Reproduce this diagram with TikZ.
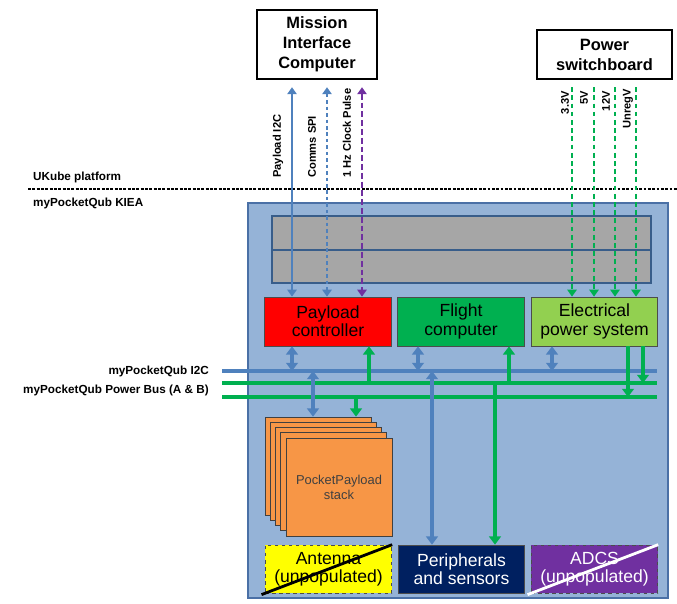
\documentclass[tikz,border=0pt]{standalone}
\usepackage{fontspec}
\setmainfont{Liberation Sans}
\usepackage{tikz}
\usetikzlibrary{arrows.meta,calc}
\usepackage{xcolor}
\definecolor{kieablue}{HTML}{95B3D7}
\definecolor{kieaedge}{HTML}{4A70A6}
\definecolor{slotedge}{HTML}{385D8A}
\definecolor{slotgray}{HTML}{A6A6A6}
\definecolor{busblue}{HTML}{4F81BD}
\definecolor{busgreen}{HTML}{00B050}
\definecolor{pcred}{HTML}{FF0000}
\definecolor{fcgreen}{HTML}{00B050}
\definecolor{epsgreen}{HTML}{92D050}
\definecolor{cardorange}{HTML}{F79646}
\definecolor{antyellow}{HTML}{FFFF00}
\definecolor{pernavy}{HTML}{002060}
\definecolor{adcspurple}{HTML}{7030A0}

\begin{document}
\begin{tikzpicture}[x=0.03cm, y=-0.03cm,
  top box/.style={draw, line width=2pt, fill=white, align=center, inner sep=0pt, font=\fontsize{14}{17}\selectfont\bfseries},
  sub box/.style={draw=black!70, line width=0.6pt, align=center, inner sep=0pt, minimum width=3.8cm, minimum height=1.47cm, font=\fontsize{15}{15.5}\selectfont},
  cut box/.style={sub box, dashed, minimum height=1.44cm},
  card/.style={draw=black!75, line width=0.6pt, fill=cardorange, minimum width=3.18cm, minimum height=2.94cm, align=center, inner sep=0pt, font=\fontsize{11}{12.8}\selectfont, text=black!75},
  side label/.style={font=\fontsize{10}{12}\selectfont\bfseries, inner sep=0pt},
  sig label/.style={font=\fontsize{9.5}{11}\selectfont\bfseries, inner sep=0pt, rotate=90},
  sig/.style={line width=1.8pt, {Triangle[length=6pt,width=8pt]}-{Triangle[length=6pt,width=8pt]}, shorten <=6pt},
  power line/.style={line width=1.8pt, busgreen, dash pattern=on 4pt off 3pt, -{Triangle[length=6pt,width=8pt]}, shorten <=6pt},
  blue tap/.style={line width=3pt, busblue, {Triangle[length=7pt,width=10pt]}-{Triangle[length=7pt,width=10pt]}},
  green tap/.style={line width=3pt, busgreen, -{Triangle[length=7pt,width=10pt]}},
  strike/.style={line width=2.4pt, shorten <=-3pt}]
\useasboundingbox (0,0) rectangle (677,603);

% platform side
\node[top box, minimum width=3.6cm, minimum height=2.07cm] (mic) at (317,44.5) {Mission\\Interface\\Computer};
\node[top box, minimum width=4.05cm, minimum height=1.47cm] (psb) at (604.5,54.5) {Power\\switchboard};

\draw[line width=1.6pt, dash pattern=on 2.5pt off 1.2pt] (28,189) -- (677,189);
\node[side label, anchor=west] (ukube) at (33,177) {UKube platform};
\node[side label, anchor=west] (kiea) at (33,203) {myPocketQub KIEA};

% KIEA board
\draw[line width=1.6pt, draw=kieaedge, fill=kieablue] (248,203) rectangle (668,598);
\draw[line width=1.4pt, draw=slotedge, fill=slotgray] (272,216) rectangle (651,250);
\draw[line width=1.4pt, draw=slotedge, fill=slotgray] (272,250) rectangle (651,283);

\node[sub box, fill=pcred] (pc) at (328,321.5) {Payload\\controller};
\node[sub box, fill=fcgreen] (fc) at (461,321.5) {Flight\\computer};
\node[sub box, fill=epsgreen] (eps) at (594.5,321.5) {Electrical\\power system};

\foreach \i in {0,...,3}
  \node[card] (card\i) at (318+5.25*\i, 466+5.25*\i) {};
\node[card] (stack) at (339,487) {PocketPayload\\stack};

\node[cut box, fill=antyellow] (ant) at (328.5,569) {Antenna\\(unpopulated)};
\node[sub box, fill=pernavy, text=white, minimum height=1.44cm] (per) at (461.5,569) {Peripherals\\and sensors};
\node[cut box, fill=adcspurple, text=white] (adcs) at (594.5,569) {ADCS\\(unpopulated)};
\draw[strike, black] (ant.south west) -- (ant.north east);
\draw[strike, white] (adcs.south west) -- (adcs.north east);

% buses
\coordinate (i2cL) at (222,371);
\coordinate (i2cR) at (657,371);
\coordinate (busAL) at (222,383);
\coordinate (busAR) at (657,383);
\coordinate (busBL) at (222,397);
\coordinate (busBR) at (657,397);
\draw[line width=2.6pt, busblue] (i2cL) -- (i2cR);
\draw[line width=3.2pt, busgreen] (busAL) -- (busAR);
\draw[line width=3.2pt, busgreen] (busBL) -- (busBR);
\node[side label, anchor=east] (i2clbl) at (209,371) {myPocketQub I2C};
\node[side label, anchor=east] (buslbl) at (209,390) {myPocketQub Power Bus (A \& B)};

% taps
\coordinate (a1) at (292,371);
\coordinate (a2) at (418,371);
\coordinate (a3) at (552,371);
\coordinate (a4) at (313,371);
\coordinate (a5) at (432,371);
\coordinate (b1) at (369,383);
\coordinate (b2) at (509,383);
\coordinate (b3) at (643,383);
\coordinate (b4) at (495,383);
\coordinate (c1) at (628,397);
\coordinate (c2) at (356,397);

\path[blue tap]
(pc.south -| a1) edge (a1)
(fc.south -| a2) edge (a2)
(eps.south -| a3) edge (a3)
(a4) edge (card0.north -| a4)
(a5) edge (per.north -| a5);
\path[green tap]
(b1) edge (pc.south -| b1)
(b2) edge (fc.south -| b2)
(eps.south -| b3) edge (b3)
(eps.south -| c1) edge (c1)
(c2) edge (card0.north -| c2)
(b4) edge (per.north -| b4);

% signals from the platform
\coordinate (p1) at (572,0);
\coordinate (p2) at (594,0);
\coordinate (p3) at (615,0);
\coordinate (p4) at (636,0);
\draw[sig, busblue] (mic.south -| a1) -- (pc.north -| a1);
\draw[sig, busblue, dash pattern=on 3pt off 2.5pt] (mic.south -| 327,0) -- (pc.north -| 327,0);
\draw[sig, adcspurple, dash pattern=on 5pt off 2.5pt] (mic.south -| 362,0) -- (pc.north -| 362,0);
\foreach \p in {p1,p2,p3,p4}
  \draw[power line] (psb.south -| \p) -- (eps.north -| \p);

\node[sig label, anchor=west] (l1) at (278,178) {Payload I2C};
\node[sig label, anchor=west] (l2) at (312,178) {Comms SPI};
\node[sig label, anchor=west] (l3) at (347,178) {1 Hz Clock Pulse};
\node[sig label, anchor=east] (v1) at (565,91) {3.3V};
\node[sig label, anchor=east] (v2) at (584,91) {5V};
\node[sig label, anchor=east] (v3) at (606,91) {12V};
\node[sig label, anchor=east] (v4) at (628,89) {UnregV};
\end{tikzpicture}
\end{document}
